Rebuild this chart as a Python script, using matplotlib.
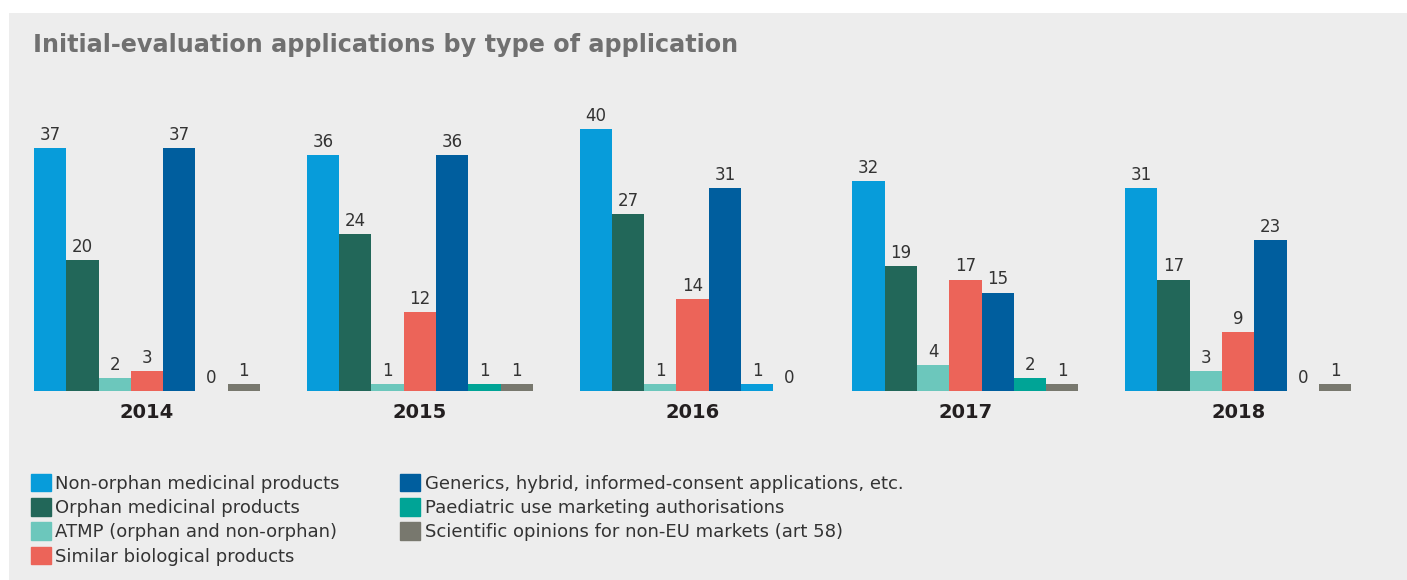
import matplotlib.pyplot as plt
import numpy as np

years = ['2014', '2015', '2016', '2017', '2018']
series = ['Non-orphan medicinal products',
          'Orphan medicinal products',
          'ATMP (orphan and non-orphan)',
          'Similar biological products',
          'Generics, hybrid, informed-consent applications, etc.',
          'Paediatric use marketing authorisations',
          'Scientific opinions for non-EU markets (art 58)']
non_orphan = [37, 36, 40, 32, 31]
orphan = [20, 24, 27, 19, 17]
atmp = [2, 1, 1, 4, 3]
biosimilar = [3, 12, 14, 17, 9]
generics = [37, 36, 31, 15, 23]
paediatric = [0, 1, 1, 2, 0]
art58 = [1, 1, 0, 1, 1]
values = [non_orphan, orphan, atmp, biosimilar, generics, paediatric, art58]

colors = ['#079cda', '#226759', '#6cc7bc', '#ec6459', '#005e9e', '#00a496', '#78786e']
BG = '#ededed'

fig = plt.figure(figsize=(14.07, 5.8), dpi=100)
fig.patch.set_facecolor('white')
# grey panel
fig.patches.append(plt.Rectangle((9/1407, 0), 1 - 9/1407, 1 - 13/580,
                                 transform=fig.transFigure, facecolor=BG,
                                 edgecolor='none', zorder=-5))

ax = fig.add_axes([10.6/1407, (580-391)/580, 1364/1407, 295/580])
ax.set_facecolor('none')

x = np.arange(len(years))
w = 32.3/272.75
for i, (vals, c) in enumerate(zip(values, colors)):
    pos = x + (i - 3) * w
    cols = [c] * len(vals)
    if i == 5:
        cols[2] = colors[0]  # 2016 paediatric bar drawn in light blue in the source
    bars = ax.bar(pos, vals, width=w, color=cols, label=series[i], zorder=2)
    for b, v in zip(bars, vals):
        ax.annotate(str(v), (b.get_x() + w/2, v), xytext=(0, 3), textcoords='offset points',
                    ha='center', va='bottom', fontsize=12, color='#333333')

ax.set_xlim(-0.5, 4.5)
ax.set_ylim(0, 45)
ax.set_xticks(x)
ax.set_xticklabels(years, fontsize=14, fontweight='bold', color='#231f20')
ax.tick_params(axis='x', length=0, pad=9)
ax.set_yticks([])
for s in ax.spines.values():
    s.set_visible(False)

fig.text(33/1407, 1 - 45/580, 'Initial-evaluation applications by type of application',
         fontsize=17.2, fontweight='bold', color='#707070', va='center')

handles, labels = ax.get_legend_handles_labels()
leg = fig.legend(handles, labels, loc='upper left', bbox_to_anchor=(22/1407, 1 - 465/580),
                 ncol=2, frameon=False, fontsize=13, handlelength=1.1, handleheight=1.1,
                 handletextpad=0.25, labelspacing=0.3, columnspacing=3.35, borderpad=0)
for t in leg.get_texts():
    t.set_color('#333333')
for h, c in zip(leg.legend_handles, colors):
    h.set_color(c)

fig.savefig('out.png', dpi=100, facecolor=fig.get_facecolor())
